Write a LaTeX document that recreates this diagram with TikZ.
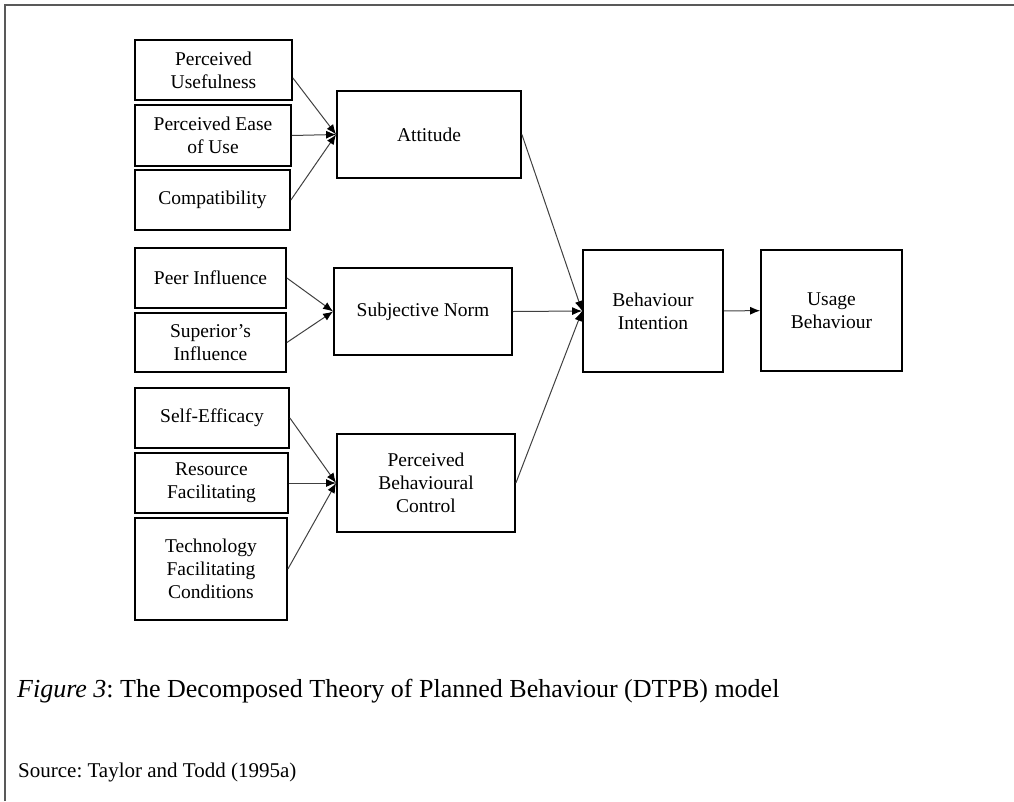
\documentclass[tikz,border=0pt]{standalone}
\usepackage{fontspec}
\setmainfont{Liberation Serif}
\usepackage{tikz}
\usetikzlibrary{arrows.meta,positioning}
\newcommand{\boxfont}{\fontsize{19.5}{23}\selectfont}
\frenchspacing
\tikzset{
        factor/.style={draw, line width=1.8pt, align=center, inner sep=0pt, font=\boxfont},
        link/.style={draw=black!75, line width=1pt, -{Latex[length=10pt,width=8pt,color=black]}},
        frame/.style={draw=black!65, line width=1.6pt},
    }
\begin{document}
\begin{tikzpicture}[x = 1pt, y = -1pt]
                \useasboundingbox (0,0) rectangle (1014,801);
                \draw[frame] (5,801) -- (5,5) -- (1014,5);
                % first level
                \node[factor, minimum width=157pt, minimum height=60pt] (pu) at (213.5,70) {Perceived\\Usefulness};
                \node[factor, minimum width=156pt, minimum height=61pt] (peou) at (213,135.5) {Perceived Ease\\of Use};
                \node[factor, minimum width=155pt, minimum height=60pt] (comp) at (212.5,200) {Compatibility};
                \node[factor, minimum width=151pt, minimum height=60pt] (peer) at (210.5,278) {Peer Influence};
                \node[factor, minimum width=151pt, minimum height=59pt] (sup) at (210.5,342.5) {Superior's\\Influence};
                \node[factor, minimum width=154pt, minimum height=60pt] (se) at (212,418) {Self-Efficacy};
                \node[factor, minimum width=153pt, minimum height=60pt] (rf) at (211.5,483) {Resource\\Facilitating};
                \node[factor, minimum width=152pt, minimum height=102pt] (tfc) at (211,569) {Technology\\Facilitating\\Conditions};
                % second level
                \node[factor, minimum width=184pt, minimum height=87pt] (att) at (429,134.5) {Attitude};
                \node[factor, minimum width=178pt, minimum height=87pt] (sn) at (423,311.5) {Subjective Norm};
                \node[factor, minimum width=178pt, minimum height=98pt] (pbc) at (426,483) {Perceived\\Behavioural\\Control};
                % outcome
                \node[factor, minimum width=140pt, minimum height=122pt] (bi) at (653,311) {Behaviour\\Intention};
                \node[factor, minimum width=141pt, minimum height=121pt] (ub) at (831.5,310.5) {Usage\\Behaviour};
                \draw[link] ([yshift=-8pt]pu.east) -- (att.west);
                \foreach \s in {peou,comp} \draw[link] (\s.east) -- (att.west);
                \foreach \s in {peer,sup} \draw[link] (\s.east) -- (sn.west);
                \foreach \s in {se,rf,tfc} \draw[link] (\s.east) -- (pbc.west);
                \foreach \s in {att,sn,pbc} \draw[link] (\s.east) -- (bi.west);
                \draw[link] (bi) -- (ub);
                \node[anchor=base west, inner sep=0pt, font=\fontsize{26}{31}\selectfont] (caption) at (17,697)
                    {\textit{Figure 3}: The Decomposed Theory of Planned Behaviour (DTPB) model};
                \node[anchor=base west, inner sep=0pt, font=\fontsize{21}{25}\selectfont] (source) at (18,777)
                    {Source: Taylor and Todd (1995a)};
            \end{tikzpicture}
\end{document}
